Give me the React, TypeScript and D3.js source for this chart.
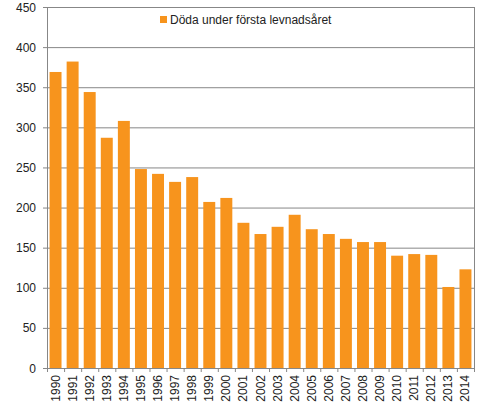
import React from "react";
import * as d3 from "d3";

const years = ["1990","1991","1992","1993","1994","1995","1996","1997","1998","1999","2000","2001","2002","2003","2004","2005","2006","2007","2008","2009","2010","2011","2012","2013","2014"];
const deaths = [369,382,344,287,308,248,242,232,238,207,212,181,167,176,191,173,167,161,157,157,140,142,141,101,123];
const yTicks = [0,50,100,150,200,250,300,350,400,450];
const seriesName = "Döda under första levnadsåret";

const W = 504, H = 415;
const left = 47, right = 474, top = 7, bottom = 368;
const font = "'Liberation Sans', Arial, sans-serif";
const grid = "#878787";
const barColor = "#F7941D";

export default function App() {
  const x = d3.scaleBand<string>().domain(years).range([left, right]).paddingInner(0.3).paddingOuter(0.15);
  const y = d3.scaleLinear().domain([0, 450]).range([bottom, top]);
  const step = (right - left) / years.length;
  return (
    <svg width={W} height={H} style={{ position: "absolute", left: 0, top: 0, background: "#fff" }}>
      {yTicks.map((t) => (
        <g key={t}>
          {t > 0 && <line x1={left} x2={right} y1={y(t) + 0.5} y2={y(t) + 0.5} stroke={grid} strokeWidth={1} />}
          <line x1={left - 4} x2={left} y1={y(t) + 0.5} y2={y(t) + 0.5} stroke={grid} />
          <text x={36} y={y(t) + 4.5} textAnchor="end" fontFamily={font} fontSize={12} fill="#222">{t}</text>
        </g>
      ))}
      {years.map((yr, i) => (
        <rect key={yr} x={x(yr)} y={y(deaths[i])} width={x.bandwidth()} height={bottom - y(deaths[i])} fill={barColor} />
      ))}
      <line x1={left + 0.5} x2={left + 0.5} y1={top} y2={bottom + 4} stroke={grid} />
      <line x1={right + 0.5} x2={right + 0.5} y1={top} y2={bottom + 4} stroke={grid} />
      <line x1={left} x2={right + 1} y1={bottom + 0.5} y2={bottom + 0.5} stroke={grid} />
      {years.map((yr, i) => (
        <line key={"t" + yr} x1={left + i * step + 0.5} x2={left + i * step + 0.5} y1={bottom} y2={bottom + 4} stroke={grid} />
      ))}
      {years.map((yr) => {
        const cx = (x(yr) as number) + x.bandwidth() / 2 + 4;
        return (
          <text key={"l" + yr} transform={`translate(${cx},${bottom + 7}) rotate(-90)`} textAnchor="end" fontFamily={font} fontSize={12} fill="#222">{yr}</text>
        );
      })}
      <rect x={160} y={16} width={7} height={7} fill={barColor} />
      <text x={170} y={23.5} fontFamily={font} fontSize={12} fill="#222">{seriesName}</text>
    </svg>
  );
}
